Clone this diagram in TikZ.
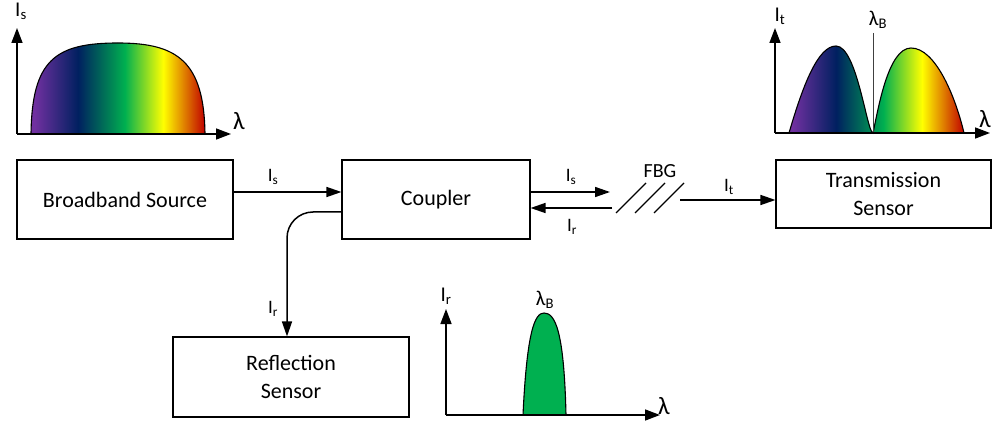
\documentclass[tikz,border=0pt]{standalone}
\usepackage{fontspec}
\setmainfont{Carlito}
\usetikzlibrary{arrows.meta}
\definecolor{spPurple}{HTML}{7030A0}
\definecolor{spNavy}{HTML}{002060}
\definecolor{spGreen}{HTML}{00B050}
\definecolor{spYellow}{HTML}{FFFF00}
\definecolor{spRed}{HTML}{C00000}
\pgfdeclarehorizontalshading{spectrum}{100bp}{color(0bp)=(spPurple); color(26bp)=(spPurple); color(38.5bp)=(spNavy); color(52bp)=(spGreen); color(63bp)=(spYellow); color(75bp)=(spRed); color(100bp)=(spRed)}
\begin{document}
\begin{tikzpicture}[x=1pt,y=-1pt,
  box/.style={draw, line width=1.1pt, align=center, inner sep=0pt, font=\fontsize{22}{28}\selectfont},
  conn/.style={line width=1.5pt, -{Triangle[length=15pt,width=10pt]}},
  axisline/.style={line width=1.5pt, -{Triangle[length=15pt,width=11pt]}},
  lbl/.style={inner sep=0pt, font=\fontsize{19}{22}\selectfont},
  albl/.style={inner sep=0pt, font=\fontsize{21}{24}\selectfont},
  lam/.style={inner sep=0pt, font=\fontsize{25}{28}\selectfont},
  specfill/.style={shading=spectrum, draw=black, line width=1.1pt}]
\path[fill=white] (0,0) rectangle (993,422);
\useasboundingbox (0,0) rectangle (993,422);

% boxes
\node[box, minimum width=216pt, minimum height=79pt] (bb) at (125,199.5) {Broadband Source};
\node[box, minimum width=188pt, minimum height=79pt] (cp) at (436,199.5) {Coupler};
\node[box, minimum width=215pt, minimum height=68pt] (ts) at (883.5,194) {Transmission\\Sensor};
\node[box, minimum width=236pt, minimum height=80pt] (rs) at (291,377) {Reflection\\Sensor};

% connectors
\draw[conn] (bb.east |- 0,192) -- (cp.west |- 0,192);
\coordinate (fs) at (610,192);
\coordinate (fr) at (612,208);
\coordinate (ft) at (680,200);
\draw[conn] (cp.east |- 0,192) -- (fs);
\draw[conn] (fr) -- (cp.east |- 0,208);
\draw[conn] (ft) -- (ts.west |- ft);
\draw[conn, rounded corners=26pt] (cp.west |- 0,212) -| ([xshift=-4pt]rs.north);

% connector labels
\node[lbl] (lis1) at (273,177) {I\textsubscript{s}};
\node[lbl] (lis2) at (571,177) {I\textsubscript{s}};
\node[lbl] (lir1) at (572,227) {I\textsubscript{r}};
\node[lbl] (lit) at (729,187) {I\textsubscript{t}};
\node[lbl] (lir2) at (273,309) {I\textsubscript{r}};

% FBG
\node[inner sep=0pt, font=\fontsize{20}{24}\selectfont] (fbg) at (660,171) {FBG};
\foreach \x in {616,635,654} \draw[line width=1.2pt] (\x,213) -- (\x+30,183);

% source spectrum
\shadedraw[specfill] (31,134) .. controls (32,60) and (55,43) .. (118,43)
  .. controls (178,43) and (204,62) .. (205,134) -- cycle;
\coordinate (o1) at (17,134);
\draw[axisline] (o1) -- (17,28);
\draw[axisline] (o1) -- (231,134);
\node[albl] (ais) at (21,11) {I\textsubscript{s}};
\node[lam] (al1) at (239,121) {λ};

% transmission spectrum
\shadedraw[specfill] (789,133) .. controls (803,85) and (818,46) .. (836,46)
  .. controls (857,46) and (867,133) .. (873,133)
  .. controls (878,110) and (888,48) .. (911,48)
  .. controls (935,48) and (955,95) .. (964,133) -- cycle;
\draw[line width=0.8pt, black!75] (873,33) -- (873,133);
\coordinate (o2) at (775,133);
\draw[axisline] (o2) -- (775,28);
\draw[axisline] (o2) -- (990,133);
\node[albl] (ait) at (780,16) {I\textsubscript{t}};
\node[albl] (alb1) at (878,20) {λ\textsubscript{B}};
\node[lam] (al2) at (985,119) {λ};

% reflection spectrum
\filldraw[fill=spGreen, draw=black, line width=1.1pt] (523,415) .. controls (527,330) and (535,313) .. (544,313)
  .. controls (555,313) and (564,330) .. (566,415) -- cycle;
\coordinate (o3) at (446,415);
\draw[axisline] (o3) -- (446,309);
\draw[axisline] (o3) -- (660,415);
\node[albl] (air) at (446,296) {I\textsubscript{r}};
\node[albl] (alb2) at (545,300) {λ\textsubscript{B}};
\node[lam] (al3) at (664,406) {λ};
\end{tikzpicture}
\end{document}
